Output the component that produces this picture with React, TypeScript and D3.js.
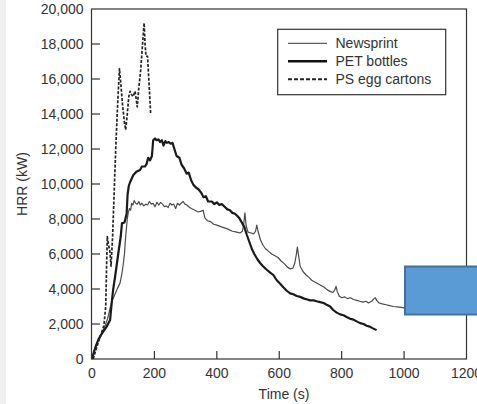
import React from 'react';
import * as d3 from 'd3';

// [time (s), HRR (kW)]
const newsprint: [number, number][] = [
  [0, 0], [6, 400], [12, 800], [18, 1000], [24, 1150], [30, 1400], [36, 1650], [42, 1900],
  [50, 2300], [58, 2900], [64, 3300], [70, 3550], [76, 3800], [82, 4050], [90, 4350],
  [96, 4900], [100, 5400], [104, 6000], [107, 6800], [110, 7400], [113, 8000], [116, 8350],
  [120, 8600], [124, 8500], [127, 8900], [131, 8800], [135, 9050], [140, 8900], [145, 8850],
  [150, 9000], [155, 8800], [160, 8900], [166, 8750], [172, 8850], [178, 8800], [184, 9000],
  [190, 8850], [196, 8900], [202, 8700], [208, 8950], [214, 8800], [220, 8950], [226, 8850],
  [232, 8700], [238, 8750], [244, 8650], [250, 8900], [256, 8800], [262, 8850], [268, 8600],
  [274, 8900], [280, 8800], [286, 8900], [292, 9000], [298, 8850], [304, 8800], [310, 8700],
  [318, 8600], [330, 8500], [340, 8400], [350, 8450], [356, 8500], [362, 8050], [370, 7900],
  [380, 7850], [390, 7700], [400, 7650], [415, 7550], [432, 7450], [450, 7300], [464, 7250],
  [474, 7200], [482, 7300], [486, 7700], [490, 8350], [494, 7600], [500, 7250], [510, 7200],
  [518, 7150], [524, 7300], [528, 7650], [532, 7300], [540, 6800], [548, 6500], [556, 6300],
  [566, 6150], [576, 6000], [586, 5900], [596, 5800], [606, 5600], [616, 5450], [626, 5250],
  [636, 5150], [644, 5200], [650, 5500], [655, 6000], [658, 6400], [662, 5900], [667, 5300],
  [676, 5000], [686, 4800], [696, 4650], [704, 4500], [714, 4400], [724, 4300], [734, 4200],
  [744, 4100], [754, 3950], [764, 3850], [772, 3800], [778, 3950], [782, 4150], [786, 3850],
  [792, 3600], [800, 3500], [810, 3550], [818, 3450], [828, 3500], [838, 3400], [848, 3350],
  [858, 3300], [868, 3250], [878, 3300], [886, 3200], [896, 3300], [904, 3450], [908, 3500],
  [912, 3350], [920, 3200], [930, 3150], [942, 3100], [954, 3050], [966, 3000], [978, 2980],
  [990, 2950], [1000, 2920], [1010, 2900], [1020, 2880],
];

const petBottles: [number, number][] = [
  [0, 0], [8, 500], [14, 800], [20, 1100], [28, 1350], [36, 1560], [47, 1850], [58, 2230],
  [63, 3180], [68, 4000], [74, 4700], [84, 6000], [92, 7000], [96, 7750], [104, 7800],
  [111, 8300], [114, 9400], [118, 9900], [122, 10100], [132, 10500], [142, 10700],
  [154, 10800], [160, 11000], [170, 11000], [175, 11150], [180, 11500], [186, 11350],
  [192, 11600], [196, 12500], [202, 12600], [207, 12500], [213, 12550], [218, 12400],
  [224, 12500], [229, 12200], [235, 12450], [240, 12350], [246, 12400], [252, 12300],
  [258, 12350], [264, 12000], [271, 11600], [280, 11500], [287, 11100], [295, 10900],
  [303, 10600], [310, 10650], [318, 10200], [325, 9950], [333, 9800], [341, 9700],
  [350, 9500], [357, 9250], [365, 9300], [372, 9000], [384, 9000], [392, 8850], [400, 8950],
  [408, 8800], [416, 8850], [425, 8700], [434, 8550], [442, 8500], [450, 8350], [458, 8300],
  [464, 8200], [472, 8050], [480, 7800], [488, 7550], [496, 7100], [504, 6700], [512, 6300],
  [520, 6000], [530, 5700], [538, 5500], [548, 5300], [560, 5100], [570, 4950], [581, 4800],
  [592, 4500], [603, 4300], [613, 4100], [624, 3900], [635, 3750], [645, 3700], [656, 3600],
  [667, 3550], [680, 3450], [690, 3400], [699, 3350], [710, 3350], [720, 3300], [731, 3250],
  [742, 3200], [752, 3100], [763, 3000], [773, 2800], [784, 2650], [795, 2550], [806, 2500],
  [816, 2400], [827, 2300], [838, 2250], [848, 2150], [859, 2050], [870, 2000], [880, 1900],
  [890, 1850], [900, 1750], [912, 1650],
];

const psEggCartons: [number, number][] = [
  [4, 0], [12, 500], [26, 1270], [38, 1900], [44, 3000], [47, 5500], [49, 7000], [53, 6500],
  [57, 6200], [61, 5300], [66, 7000], [70, 9000], [76, 12000], [82, 14500], [88, 16600],
  [92, 15800], [98, 14500], [104, 13500], [108, 13100], [113, 14000], [118, 15000],
  [122, 15300], [127, 15100], [132, 15000], [138, 15300], [142, 14800], [145, 14400],
  [150, 15500], [156, 16500], [162, 18000], [167, 19200], [170, 18000], [173, 17300],
  [178, 17300], [182, 16000], [188, 14000],
];

const xTicks = [0, 200, 400, 600, 800, 1000, 1200];
const yTicks = [0, 2000, 4000, 6000, 8000, 10000, 12000, 14000, 16000, 18000, 20000];
const legendItems = ['Newsprint', 'PET bottles', 'PS egg cartons'];

const W = 477;
const H = 404;
const left = 92;
const right = 466.5;
const top = 9;
const bottom = 359;
const ink = '#333';
const font = 'Liberation Sans, Arial, Helvetica, sans-serif';

const App: React.FC = () => {
  const x = d3.scaleLinear().domain([0, 1200]).range([left, right]);
  const y = d3.scaleLinear().domain([0, 20000]).range([bottom, top]);
  const line = d3.line<[number, number]>().x(d => x(d[0])).y(d => y(d[1]));

  const styles = [
    { stroke: '#4a4a4a', width: 1.2, dash: undefined },
    { stroke: '#1a1a1a', width: 2.2, dash: undefined },
    { stroke: '#222', width: 1.7, dash: '3,1.6' },
  ];
  const legendStyles = [
    { stroke: '#333', width: 1, dash: undefined },
    { stroke: '#111', width: 2.5, dash: undefined },
    { stroke: '#222', width: 2, dash: '4,2' },
  ];
  const series = [newsprint, petBottles, psEggCartons];

  return (
    <svg width={W} height={H} style={{ position: 'absolute', left: 0, top: 0, background: '#fff' }}
      fontFamily={font}>
      <rect x={0} y={0} width={6} height={H} fill="#f0f0f0" />

      {series.map((s, i) => (
        <path key={i} d={line(s) || ''} fill="none" stroke={styles[i].stroke}
          strokeWidth={styles[i].width} strokeDasharray={styles[i].dash} strokeLinejoin="round" />
      ))}

      {/* frame */}
      <rect x={left - 0.5} y={top} width={right - left + 0.5} height={bottom - top}
        fill="none" stroke={ink} strokeWidth={1.2} />

      {/* y ticks */}
      {yTicks.map(t => (
        <g key={t}>
          {t > 0 && t < 20000 && (
            <line x1={left} x2={left + 8} y1={y(t)} y2={y(t)} stroke={ink} strokeWidth={1.2} />
          )}
          <text x={83.5} y={y(t)} dy="0.36em" textAnchor="end" fontSize={14} fill={ink}>
            {d3.format(',')(t)}
          </text>
        </g>
      ))}

      {/* x ticks */}
      {xTicks.map(t => (
        <g key={t}>
          {t > 0 && t < 1200 && (
            <line x1={x(t)} x2={x(t)} y1={bottom} y2={bottom - 8} stroke={ink} strokeWidth={1.2} />
          )}
          <text x={x(t)} y={378} textAnchor="middle" fontSize={14} fill={ink}>{t}</text>
        </g>
      ))}

      <text x={284} y={399} textAnchor="middle" fontSize={14} fill={ink}>Time (s)</text>
      <text transform="translate(27,184) rotate(-90)" textAnchor="middle" fontSize={14} fill={ink}>
        HRR (kW)
      </text>

      {/* legend */}
      <rect x={277.7} y={29.3} width={168} height={65.4} fill="#fff" stroke={ink} strokeWidth={1.2} />
      {legendItems.map((name, i) => {
        const ly = 43.3 + i * 18;
        return (
          <g key={name}>
            <line x1={288} x2={327} y1={ly} y2={ly} stroke={legendStyles[i].stroke}
              strokeWidth={legendStyles[i].width} strokeDasharray={legendStyles[i].dash} />
            <text x={335.5} y={ly} dy="0.36em" fontSize={14} fill={ink}>{name}</text>
          </g>
        );
      })}

      {/* overlay shape */}
      <rect x={405} y={266.5} width={80} height={48} fill="#5b9bd5" stroke="#41719c" strokeWidth={2} />
    </svg>
  );
};

export default App;
